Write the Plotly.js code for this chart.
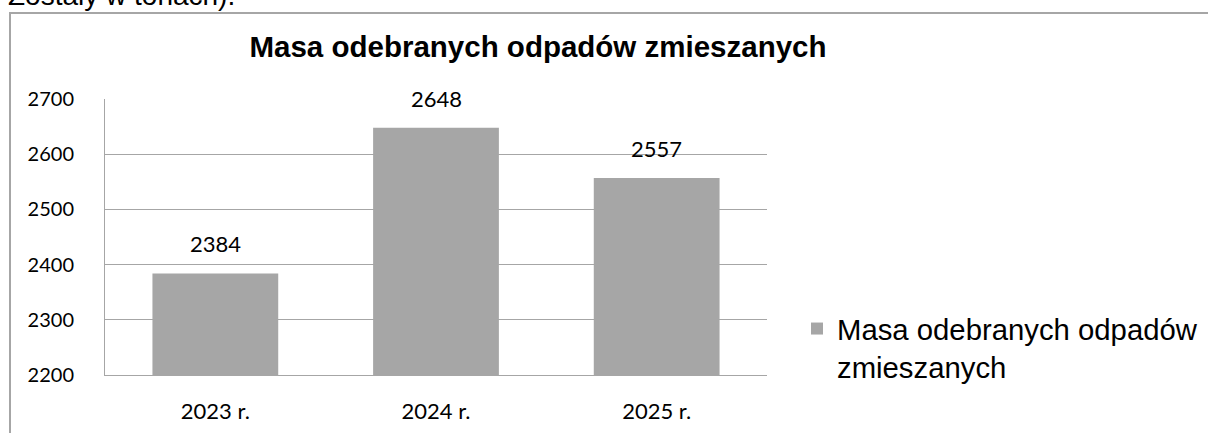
<!DOCTYPE html>
<html>
<head>
<meta charset="utf-8">
<script src="https://cdn.plot.ly/plotly-3.0.1.min.js"></script>
<style>
html,body{margin:0;padding:0;background:#fff;overflow:hidden;}
#chart{width:1208px;height:433px;}
</style>
</head>
<body>
<div id="chart"></div>
<script>
var categories = ["2023 r.", "2024 r.", "2025 r."];
var values = [2384, 2648, 2557];
var seriesName = "Masa odebranych odpadów<br>zmieszanych";
var chartTitle = "Masa odebranych odpadów zmieszanych";
var tickVals = [2200, 2300, 2400, 2500, 2600, 2700];
var cutText = "Zostały w tonach).";

var W = 1208, H = 433;
var L = 105, R = 767, T = 99, B = 375;
var pw = R - L, ph = B - T;
function px(x){ return (x - L) / pw; }
function py(y){ return (B - y) / ph; }

var labelFont = {family: "Lato, 'Open Sans', sans-serif", size: 22, color: "#000"};
var yTickFont = {family: "Lato, 'Open Sans', sans-serif", size: 20, color: "#000"};

var annotations = categories.map(function(c, i){
  return {x: c, y: values[i], xref: "x", yref: "y", text: String(values[i]),
          showarrow: false, yanchor: "bottom", yshift: 14, font: labelFont};
});
annotations.push({xref: "paper", yref: "paper", x: px(6), y: py(13), xanchor: "left", yanchor: "bottom",
  text: cutText, showarrow: false, font: {family: "'Liberation Sans', Arial, sans-serif", size: 28, color: "#000"}});

var data = [{
  type: "bar", x: categories, y: values, name: seriesName,
  marker: {color: "#a6a6a6"}, hoverinfo: "x+y"
}];

var layout = {
  width: W, height: H,
  margin: {l: L, r: W - R, t: T, b: H - B, pad: 0, autoexpand: false},
  paper_bgcolor: "#fff", plot_bgcolor: "#fff",
  title: {text: "<b>" + chartTitle + "</b>", xref: "container", yref: "container",
          x: 538 / W, y: 1 - 47 / H, xanchor: "center", yanchor: "middle",
          font: {family: "'Liberation Sans', Arial, sans-serif", size: 29.5, color: "#000"}},
  bargap: 0.43,
  xaxis: {type: "category", showgrid: false, showline: true, linecolor: "#a6a6a6", linewidth: 1,
          ticks: "", tickfont: labelFont, ticklabelstandoff: 17, fixedrange: true},
  yaxis: {range: [2200, 2700], tickvals: tickVals, showgrid: true, gridcolor: "#a6a6a6", gridwidth: 1,
          showline: true, linecolor: "#a6a6a6", linewidth: 1, zeroline: false, ticks: "",
          tickfont: yTickFont, ticklabelstandoff: 26, fixedrange: true},
  showlegend: true,
  legend: {x: px(797), y: py(303), xanchor: "left", yanchor: "top", valign: "top",
           font: {family: "'Liberation Sans', Arial, sans-serif", size: 29.3, color: "#000"},
           itemwidth: 30, bgcolor: "rgba(0,0,0,0)", tracegroupgap: 0},
  annotations: annotations,
  shapes: [{type: "rect", xref: "paper", yref: "paper", x0: px(10), x1: px(1220), y0: py(450), y1: py(13),
            line: {color: "#a6a6a6", width: 2}, layer: "below"}]
};

Plotly.newPlot("chart", data, layout, {displayModeBar: false, staticPlot: true});
</script>
</body>
</html>
